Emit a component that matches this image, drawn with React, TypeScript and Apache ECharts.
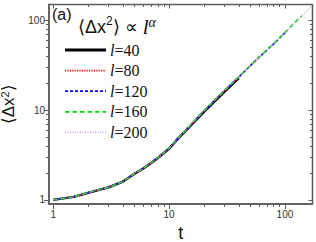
import React, { useEffect, useRef } from "react";
import * as echarts from "echarts";

const T = [1, 1.5, 2, 3, 4, 5, 6, 7, 8, 10, 12, 15, 20, 25, 30, 40, 50, 60, 70, 80, 100, 120, 140, 160, 175];
const L40 = [1, 1.08, 1.2, 1.38, 1.6, 1.94, 2.24, 2.58, 2.93, 3.72, 4.85, 6.5, 9.6, 12.7, 16, 22.8];
const L80 = [1, 1.08, 1.2, 1.39, 1.61, 1.95, 2.26, 2.61, 2.96, 3.77, 4.92, 6.62, 9.85, 13.1, 16.5, 23.6, 31.2, 39.2];
const L120 = [1, 1.08, 1.2, 1.38, 1.6, 1.95, 2.25, 2.6, 2.95, 3.75, 4.9, 6.6, 9.8, 13, 16.4, 23.5, 31, 39, 47, 55, 73];
const L160 = [1, 1.08, 1.21, 1.38, 1.6, 1.95, 2.25, 2.6, 2.95, 3.76, 4.9, 6.62, 9.85, 13.1, 16.5, 23.6, 31.1, 39.1, 47.1, 55.2, 73.3, 93.2, 113];
const L200 = [1, 1.08, 1.2, 1.38, 1.6, 1.95, 2.25, 2.6, 2.95, 3.75, 4.9, 6.6, 9.8, 13, 16.4, 23.5, 31, 39, 47, 55, 73, 93, 113, 134, 150];
const NAMES = ["l=40", "l=80", "l=120", "l=160", "l=200"];
const MAJOR_X = [1, 10, 100];
const MINOR_X = [2, 3, 4, 5, 6, 7, 8, 9, 20, 30, 40, 50, 60, 70, 80, 90];
const MAJOR_Y = [1, 10, 100];
const MINOR_Y = [2, 3, 4, 5, 6, 7, 8, 9, 20, 30, 40, 50, 60, 70, 80, 90];

const X_MIN = 0.92, X_MAX = 173, Y_MIN = 0.9, Y_MAX = 151;
const AXIS_COLOR = "#5a5a5a";

function pair(ys: number[]) {
  return ys.map((y, i) => [T[i], y]);
}

export default function App() {
  const ref = useRef<HTMLDivElement>(null);
  useEffect(() => {
    if (!ref.current) return;
    const chart = echarts.init(ref.current, null, { renderer: "svg" });
    const tickStyle = { color: AXIS_COLOR, width: 1 };
    const labelStyle = { color: "#333", fontFamily: "Liberation Sans", fontSize: 10 };
    const styles = [
      { color: "#000000", width: 2.4, type: "solid" },
      { color: "#ff0000", width: 1.7, type: [1.2, 1.2] },
      { color: "#0000ff", width: 1.7, type: [3, 2] },
      { color: "#00e000", width: 1.7, type: [4.5, 3] },
      { color: "#c890f0", width: 1.2, type: [1, 1.5] },
    ];
    const datas = [L40, L80, L120, L160, L200];
    const legendX0 = 65, legendX1 = 106, legendY0 = 50, legendStep = 20.6;
    const legendGraphics: any[] = [];
    NAMES.forEach((nm, k) => {
      const y = legendY0 + k * legendStep;
      legendGraphics.push({
        type: "line",
        shape: { x1: legendX0, y1: y, x2: legendX1, y2: y },
        style: { stroke: styles[k].color, lineWidth: k === 0 ? 3 : styles[k].width, lineDash: styles[k].type === "solid" ? null : styles[k].type },
        z: 10,
      });
      legendGraphics.push({
        type: "text",
        x: 110,
        y: y,
        style: {
          text: `{i|l}{n|${nm.slice(1)}}`,
          verticalAlign: "middle",
          rich: {
            i: { fontFamily: "Liberation Serif", fontStyle: "italic", fontSize: 16, fill: "#111" },
            n: { fontFamily: "Liberation Serif", fontSize: 16, fill: "#111" },
          },
        },
        z: 10,
      });
    });
    const hiddenAxis = (dim: "x" | "y", position: string, custom: number[], len: number) => ({
      type: "log",
      position,
      min: dim === "x" ? X_MIN : Y_MIN,
      max: dim === "x" ? X_MAX : Y_MAX,
      axisLine: { show: false, onZero: false },
      axisTick: { customValues: custom, length: len, inside: true, lineStyle: tickStyle },
      axisLabel: { show: false },
      splitLine: { show: false },
    });
    chart.setOption({
      animation: false,
      grid: {
        left: 49, top: 4.5, right: 3.5, bottom: 38, outerBoundsMode: "none",
        show: true, borderColor: AXIS_COLOR, borderWidth: 1.5, backgroundColor: "transparent",
      },
      xAxis: [
        {
          type: "log", position: "bottom", min: X_MIN, max: X_MAX,
          axisLine: { show: true, onZero: false, lineStyle: { color: AXIS_COLOR, width: 1.5 } },
          axisTick: { customValues: MAJOR_X, length: 5, lineStyle: tickStyle },
          axisLabel: { customValues: MAJOR_X, margin: 5, ...labelStyle },
          splitLine: { show: false },
          name: "t", nameLocation: "middle", nameGap: 10,
          nameTextStyle: { fontFamily: "Liberation Sans", fontSize: 18, color: "#111" },
        },
        {
          type: "log", position: "bottom", min: X_MIN, max: X_MAX,
          axisLine: { show: false, onZero: false },
          axisTick: { customValues: MINOR_X, length: 3, lineStyle: tickStyle },
          axisLabel: { show: false },
          splitLine: { show: false },
        },
        hiddenAxis("x", "top", MAJOR_X, 4),
        hiddenAxis("x", "top", MINOR_X, 2.5),
      ],
      yAxis: [
        {
          type: "log", position: "left", min: Y_MIN, max: Y_MAX,
          axisLine: { show: true, onZero: false, lineStyle: { color: AXIS_COLOR, width: 1.5 } },
          axisTick: { customValues: MAJOR_Y, length: 5, lineStyle: tickStyle },
          axisLabel: { customValues: MAJOR_Y, margin: 4, ...labelStyle },
          splitLine: { show: false },
          name: "⟨Δx{s|2}⟩", nameLocation: "middle", nameRotate: 90, nameGap: 26,
          nameTextStyle: {
            fontFamily: "Liberation Sans", fontSize: 17, color: "#111",
            rich: { s: { fontFamily: "Liberation Sans", fontSize: 11, color: "#111", verticalAlign: "top", padding: [0, 0, 8, 0] } },
          },
        },
        {
          type: "log", position: "left", min: Y_MIN, max: Y_MAX,
          axisLine: { show: false, onZero: false },
          axisTick: { customValues: MINOR_Y, length: 3, lineStyle: tickStyle },
          axisLabel: { show: false },
          splitLine: { show: false },
        },
        hiddenAxis("y", "right", MAJOR_Y, 4),
        hiddenAxis("y", "right", MINOR_Y, 2.5),
      ],
      graphic: [
        { type: "text", left: 52, top: 6, style: { text: "(a)", font: "16px 'Liberation Sans'", fill: "#111" } },
        {
          type: "text",
          left: 78,
          top: 15,
          style: {
            text: "⟨Δx{s|2}⟩ ∝ {i|l}{a|α}",
            font: "18px 'Liberation Sans'",
            fill: "#111",
            rich: {
              s: { fontFamily: "Liberation Sans", fontSize: 12, fill: "#111", verticalAlign: "top", padding: [0, 0, 8, 0] },
              i: { fontFamily: "Liberation Serif", fontStyle: "italic", fontSize: 21, fill: "#111" },
              a: { fontFamily: "Liberation Serif", fontStyle: "italic", fontSize: 14, fill: "#111", verticalAlign: "top", padding: [0, 0, 10, 0] },
            },
          },
        },
        ...legendGraphics,
      ],
      series: datas.map((d, k) => ({
        name: NAMES[k],
        type: "line",
        xAxisIndex: 0,
        yAxisIndex: 0,
        data: pair(d),
        showSymbol: false,
        symbol: "none",
        lineStyle: styles[k],
        itemStyle: { color: styles[k].color },
        z: 2 + k,
      })),
    });
    return () => chart.dispose();
  }, []);
  return <div ref={ref} style={{ width: 316, height: 242, position: "absolute", left: 0, top: 0 }} />;
}
